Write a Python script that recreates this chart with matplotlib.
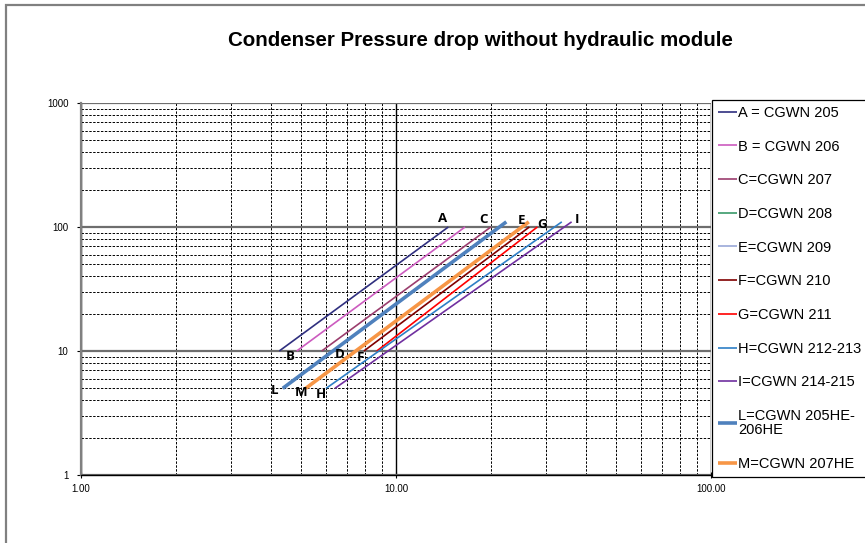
import matplotlib.pyplot as plt
import matplotlib.patches as patches
from matplotlib.ticker import LogLocator, FixedLocator, NullFormatter

# Series: straight lines on log-log (water flow vs pressure drop)
labels = ["A = CGWN 205", "B = CGWN 206", "C=CGWN 207", "D=CGWN 208",
          "E=CGWN 209", "F=CGWN 210", "G=CGWN 211", "H=CGWN 212-213",
          "I=CGWN 214-215", "L=CGWN 205HE-\n206HE", "M=CGWN 207HE"]
flow_start = [4.26, 4.84, 5.81, 6.3, 7.45, 7.91, 8.69, 6.0, 6.4, 4.37, 5.17]
flow_end = [14.66, 16.56, 20.0, 21.3, 25.2, 26.5, 28.1, 33.6, 36.1, 22.4, 26.4]
dp_start = [10, 10, 10, 10, 10, 10, 10, 5, 5, 5, 5]
dp_end = [100, 100, 100, 100, 100, 100, 100, 110, 110, 110, 110]
colors = ["#2F2F7F", "#CC5BBF", "#9B3D6E", "#3A9A6A", "#99A8D8", "#800000",
          "#FF0000", "#2E7FC6", "#7030A0", "#4F81BD", "#F79646"]
widths = [1.2, 1.2, 1.2, 1.2, 1.2, 1.2, 1.2, 1.2, 1.2, 2.6, 2.6]

# Letter tags drawn next to the lines
tag_text = ["A", "C", "E", "G", "I", "B", "D", "F", "L", "M", "H"]
tag_x = [14.1, 19.0, 25.1, 29.1, 37.6, 4.61, 6.64, 7.69, 4.10, 4.99, 5.78]
tag_y = [118, 114, 112, 104, 116, 9.1, 9.3, 8.9, 4.76, 4.59, 4.5]

x_ticks = [1, 10, 100]
x_ticklabels = ["1.00", "10.00", "100.00"]
y_ticks = [1, 10, 100, 1000]
y_ticklabels = ["1", "10", "100", "1000"]

plt.rcParams['font.family'] = ['Liberation Sans', 'DejaVu Sans']

fig = plt.figure(figsize=(8.65, 5.43), dpi=100)
ax = fig.add_axes([81 / 865, 1 - 475 / 543, 630 / 865, 372 / 543])

handles = []
for i in range(len(labels)):
    z = 4 if widths[i] > 2 else 3
    (h,) = ax.plot([flow_start[i], flow_end[i]], [dp_start[i], dp_end[i]],
                   color=colors[i], lw=widths[i], zorder=z, solid_capstyle='butt')
    handles.append(h)

for t, x, y in zip(tag_text, tag_x, tag_y):
    ax.text(x, y, t, fontsize=9.5, fontweight='bold', family=['Open Sans', 'DejaVu Sans'],
            ha='center', va='center', zorder=5)

ax.set_xscale('log')
ax.set_yscale('log')
ax.set_xlim(1, 100)
ax.set_ylim(1, 1000)

ax.xaxis.set_major_locator(FixedLocator(x_ticks))
ax.set_xticklabels(x_ticklabels)
ax.yaxis.set_major_locator(FixedLocator(y_ticks))
ax.set_yticklabels(y_ticklabels)
ax.xaxis.set_minor_locator(LogLocator(base=10, subs=range(2, 10)))
ax.yaxis.set_minor_locator(LogLocator(base=10, subs=range(2, 10)))
ax.xaxis.set_minor_formatter(NullFormatter())
ax.yaxis.set_minor_formatter(NullFormatter())

ax.tick_params(which='major', labelsize=7, length=3, width=0.8, colors='black', pad=6)
ax.tick_params(axis='x', which='major', direction='inout', length=5, pad=4)
ax.tick_params(which='minor', length=0)

# Grid: dashed minor, solid major
ax.grid(which='minor', color='black', ls=(0, (2.5, 1.5)), lw=0.7)
ax.grid(axis='y', which='major', color='#6E6E6E', ls='-', lw=1.6)
ax.grid(axis='x', which='major', color='black', ls='-', lw=1.0)
ax.set_axisbelow(True)

for s in ['top', 'right']:
    ax.spines[s].set_visible(False)
ax.spines['left'].set_color('#808080')
ax.spines['left'].set_linewidth(1.6)
ax.spines['bottom'].set_color('black')
ax.spines['bottom'].set_linewidth(1.0)

fig.text(480 / 865, 1 - 40 / 543, "Condenser Pressure drop without hydraulic module",
         fontsize=14.8, fontweight='bold', ha='center', va='center')

leg = fig.legend(handles, labels, loc='upper left', bbox_to_anchor=(712 / 865, 1 - 100 / 543),
                 fontsize=10.5, frameon=True, fancybox=False, shadow=False,
                 borderaxespad=0, borderpad=0.4, handlelength=1.3, handletextpad=0.1,
                 labelspacing=1.35)
leg.get_texts()[9].set_linespacing(1.0)
leg.get_frame().set_edgecolor('black')
leg.get_frame().set_linewidth(0.9)
leg.get_frame().set_alpha(1)

# Outer chart border
fig.patches.append(patches.Rectangle((6 / 865, -0.1), 1.2, 1 - 5 / 543 + 0.1,
                                     transform=fig.transFigure, fill=False,
                                     edgecolor='#808080', lw=1.6))

fig.savefig("out.png", dpi=100)
